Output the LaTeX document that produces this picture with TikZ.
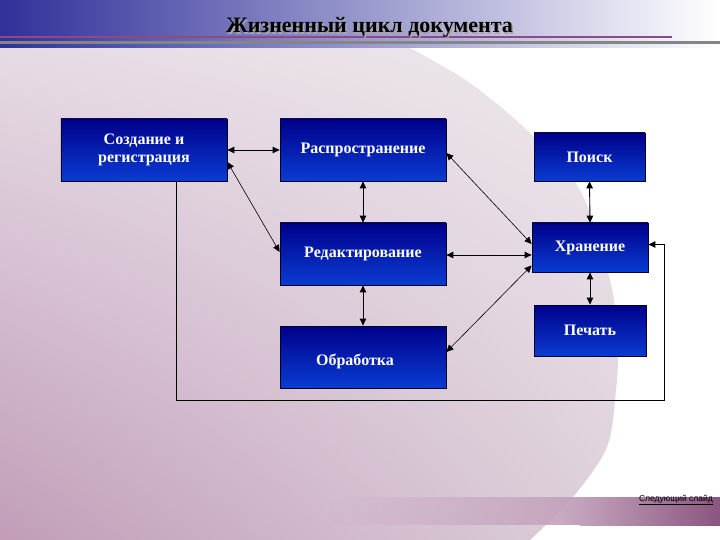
\documentclass[tikz,border=0pt]{standalone}
\usepackage{fontspec}
\usepackage{graphicx}
\setmainfont{Liberation Serif}
\newfontfamily\footfont{Liberation Sans}
\usetikzlibrary{arrows.meta,calc,shadings,fadings}
\definecolor{boxtop}{HTML}{00008A}
\definecolor{boxbot}{HTML}{0A3CD2}
\definecolor{bgUL}{HTML}{E6DBE4}
\definecolor{bgUR}{HTML}{EEE8EE}
\definecolor{bgLL}{HTML}{C19DB8}
\definecolor{bgLR}{HTML}{DDD0DA}
\definecolor{banL}{HTML}{30309A}
\definecolor{banM}{HTML}{8B8BBB}
\definecolor{lnPurple}{HTML}{8E4A88}
\definecolor{lnGrey}{HTML}{858585}
\definecolor{bandB}{HTML}{C3A2BB}
\definecolor{bandC}{HTML}{8A5580}
\tikzfading[name=bandfade, left color=transparent!100, right color=transparent!0]
\begin{document}
\begin{tikzpicture}[x=1bp,y=-1bp,
  box/.style={draw=black!85!blue, line width=0.8bp, top color=boxtop, bottom color=boxbot,
    inner sep=0pt, text=white, align=center,
    font=\fontsize{16bp}{18bp}\selectfont\bfseries},
  boxtext/.style={text=white, inner sep=0pt, font=\fontsize{16bp}{18bp}\selectfont\bfseries},
  tip/.tip={Triangle[length=7bp,width=6.5bp]},
  dbl/.style={{tip}-{tip}, line width=0.9bp, black},
  dbldiag/.style={{tip}-{tip}, line width=0.6bp, black},
  fb/.style={-{tip}, line width=0.9bp, black}]
\useasboundingbox (0,0) rectangle (720,540);
% background
\fill[white] (0,0) rectangle (720,540);
\shade[upper left=bgUL, upper right=bgUR, lower left=bgLL, lower right=bgLR]
  (0,48) -- plot[smooth] coordinates {(410,48) (470,83) (530,133) (580,190) (610,280) (618,340) (616,390) (607,447) (573,497) (530,540)} -- (0,540) -- cycle;
% banner
\shade[left color=banL, middle color=banM, right color=white] (0,0) rectangle (720,48);
\draw[lnPurple, line width=2bp] (0,37) -- (672,37);
\draw[lnGrey, line width=3bp] (0,42.5) -- (720,42.5);
% bottom band
\fill[bandB, path fading=bandfade] (330,497) rectangle (580,525);
\shade[left color=bandB, right color=bandC] (579.5,497) rectangle (720,525);
% title
\node[anchor=base, text=gray!70, font=\fontsize{22bp}{24bp}\selectfont\bfseries] (titleshadow) at (371,34.5) {Жизненный цикл документа};
\node[anchor=base, text=black, font=\fontsize{22bp}{24bp}\selectfont\bfseries] (title) at (369.5,33) {Жизненный цикл документа};
% footer
\node[anchor=base east, inner sep=0pt, font=\footfont\fontsize{8.5bp}{10bp}\selectfont] (next) at (713,501) {\underline{Следующий слайд}};
% boxes
\node[box, minimum width=166bp, minimum height=62bp] (create) at (144,150) {Создание и\\регистрация};
\node[box, minimum width=166bp, minimum height=62bp] (distr) at (363,150) {Распространение};
\node[box, minimum width=166bp, minimum height=62bp] (edit) at (363,254) {Редактирование};
\node[box, minimum width=166bp, minimum height=62bp] (proc) at (363,357) {};
\node[boxtext] (proctext) at (355,361) {Обработка};
\node[box, minimum width=111bp, minimum height=48bp] (search) at (589.5,157) {Поиск};
\node[box, minimum width=116bp, minimum height=49bp] (store) at (590,247.5) {Хранение};
\node[box, minimum width=112bp, minimum height=51bp] (print) at (590,330.5) {Печать};
% connectors
\draw[dbl] (create.east) -- (distr.west);
\draw[dbldiag] ($(create.east)+(0,12)$) -- ($(edit.west)+(0,-2)$);
\draw[dbl] (distr.south) -- (edit.north);
\draw[dbl] (edit.south) -- (proc.north);
\draw[dbldiag] ($(distr.east)+(0,3)$) -- ($(store.west)+(0,-3.5)$);
\draw[dbl] ($(edit.east)+(0,1)$) -- ($(edit.east -| store.west)+(0,1)$);
\draw[dbldiag] ($(proc.east)+(0,-5)$) -- ($(store.west)+(0,18)$);
\draw[dbl] (search.south) -- (store.north);
\draw[dbl] (store.south) -- (print.north);
\coordinate (fbR) at (664,400);
\draw[fb] ($(create.south)+(32,0)$) |- (fbR) |- ($(store.east)+(0,-3)$);
\end{tikzpicture}
\end{document}
